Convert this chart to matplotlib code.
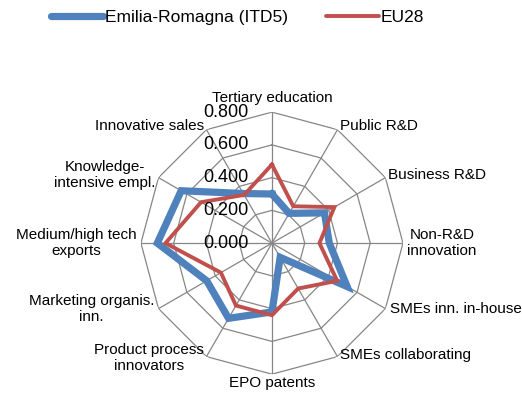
import numpy as np
import matplotlib.pyplot as plt

plt.rcParams["font.family"] = ["Liberation Sans", "DejaVu Sans"]

categories = [
    "Tertiary education", "Public R&D", "Business R&D", "Non-R&D\ninnovation",
    "SMEs inn. in-house", "SMEs collaborating", "EPO patents",
    "Product process\ninnovators", "Marketing organis.\ninn.",
    "Medium/high tech\nexports", "Knowledge-\nintensive empl.", "Innovative sales",
]
emilia = [0.30, 0.21, 0.37, 0.35, 0.53, 0.10, 0.42, 0.53, 0.46, 0.70, 0.64, 0.35]
eu28 = [0.48, 0.26, 0.44, 0.29, 0.46, 0.32, 0.44, 0.44, 0.36, 0.65, 0.50, 0.34]
rings = [0.2, 0.4, 0.6, 0.8]
tick_vals = [0.0, 0.2, 0.4, 0.6, 0.8]

n = len(categories)
angles = np.linspace(0, 2 * np.pi, n, endpoint=False)
closed = np.append(angles, angles[0])

fig = plt.figure(figsize=(5.22, 3.96), dpi=100)
ax = fig.add_axes([0.270, 0.055, 0.502, 0.662], projection="polar")
ax.set_theta_zero_location("N")
ax.set_theta_direction(-1)
ax.set_ylim(0, 0.8)
ax.grid(False)
ax.spines["polar"].set_visible(False)
ax.set_xticks([])
ax.set_yticks([])
ax.patch.set_visible(False)

grid_col = "#868686"
for r in rings:
    ax.plot(closed, [r] * (n + 1), color=grid_col, lw=0.9, zorder=1)
for a in angles:
    ax.plot([a, a], [0, 0.8], color=grid_col, lw=0.9, zorder=1)

ax.plot(closed, emilia + emilia[:1], color="#4F81BD", lw=5.2,
        solid_joinstyle="miter", zorder=3, label="Emilia-Romagna (ITD5)")
ax.plot(closed, eu28 + eu28[:1], color="#C0504D", lw=2.8,
        solid_joinstyle="miter", zorder=4, label="EU28")

# radial value labels, left of the top spoke
for v in tick_vals:
    ax.annotate(f"{v:.3f}", xy=(0, v), xytext=(-17, 0), textcoords="offset points",
                ha="right", va="center", fontsize=13, zorder=5)

# category labels around the outside
offsets = [(0, 5), (2, 3), (2, 2), (3, 0), (3, 0), (2, 1),
           (0, -1), (-2, -1), (-3, 0), (-3, 0), (-2, 2), (-2, 3)]
for a, lab, off in zip(angles, categories, offsets):
    deg = np.degrees(a)
    if deg == 0:
        ha, va = "center", "bottom"
    elif deg == 180:
        ha, va = "center", "top"
    elif deg < 180:
        ha, va = "left", "center"
    else:
        ha, va = "right", "center"
    ax.annotate(lab, xy=(a, 0.8), xytext=off, textcoords="offset points",
                ha=ha, va=va, fontsize=11, multialignment="center",
                annotation_clip=False)

leg = fig.legend(loc="center", bbox_to_anchor=(0.455, 0.955), ncol=2, frameon=False,
                 fontsize=12.5, handlelength=3.0, handletextpad=0.1,
                 columnspacing=2.2)
for line in leg.get_lines():
    line.set_solid_capstyle("round")

fig.savefig("out.png", dpi=100)
